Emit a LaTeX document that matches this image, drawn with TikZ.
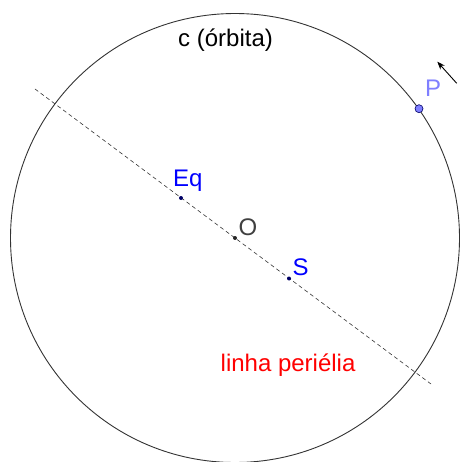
\documentclass[tikz,border=0pt]{standalone}
\usepackage{fontspec}
\setmainfont{Liberation Sans}
\usetikzlibrary{arrows.meta}
\definecolor{orbit}{HTML}{333333}
\definecolor{ptblue}{HTML}{7F7FFF}
\definecolor{ptdark}{HTML}{000066}
\definecolor{ograyc}{HTML}{404040}
\tikzset{
  lbl/.style={anchor=base west, inner sep=0pt, font=\fontsize{24}{28}\selectfont},
  dotpt/.style={circle, fill=ptdark, inner sep=0pt, minimum size=4pt},
}
\begin{document}
\begin{tikzpicture}[x=1pt,y=-1pt]
\useasboundingbox (0,0) rectangle (461,462);
\node[circle, draw=orbit, line width=0.9pt, inner sep=0pt, outer sep=0pt, minimum size=449pt] (c) at (235,238) {};
% dashed perihelion line
\coordinate (L1) at (35,89);
\coordinate (L2) at (431,384);
\draw[dashed, dash pattern=on 4pt off 3pt, line width=0.6pt, black!80] (L1) -- (L2);
% points
\node[dotpt] (Eq) at (181,198) {};
\node[dotpt] (S) at (289,278.5) {};
\node[circle, fill=black!85, inner sep=0pt, minimum size=4pt] (O) at (235,238) {};
\node[circle, fill=ptblue, draw=ptdark, line width=0.6pt, inner sep=0pt, minimum size=8pt] (P) at (419,108.7) {};
% labels
\node[lbl] (tc) at (178,46.5) {c (órbita)};
\node[lbl, text=blue] (tEq) at (173,186.5) {Eq};
\node[lbl, text=ograyc] (tO) at (238.5,235) {O};
\node[lbl, text=blue] (tS) at (292.5,275) {S};
\node[lbl, text=ptblue] (tP) at (425,96.5) {P};
\node[lbl, text=red] (tl) at (220.5,371) {linha periélia};
% motion arrow
\coordinate (A1) at (456.7,83.3);
\coordinate (A2) at (437.3,61.7);
\draw[line width=0.9pt, -{Stealth[length=8pt,width=6pt]}] (A1) -- (A2);
\end{tikzpicture}
\end{document}
